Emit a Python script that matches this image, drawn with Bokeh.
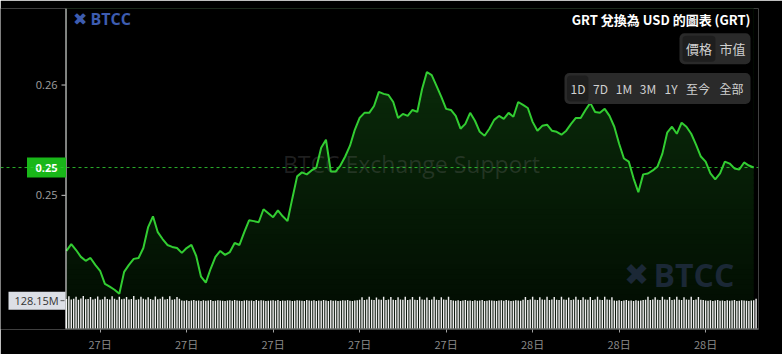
import numpy as np
import pandas as pd
from bokeh.plotting import figure
from bokeh.models import Range1d, FixedTicker, CustomJSTickFormatter, Span
from bokeh.core.properties import value
from bokeh.embed import file_html
from bokeh.resources import INLINE

# ---------------- data ----------------
title_text = "GRT 兌換為 USD 的圖表 (GRT)"
mode_buttons = ["價格", "市值"]
range_buttons = ["1D", "7D", "1M", "3M", "1Y", "至今", "全部"]
start_time = "2024-05-27 07:50"
y_ticks = [0.255, 0.26]

# GRT price, 10-minute steps
price = [
    0.25248, 0.25279, 0.25252, 0.25221, 0.25203, 0.25216, 0.25185, 0.25158, 0.25099, 0.25086,
    0.25072, 0.25054, 0.25153, 0.25185, 0.25212, 0.25216, 0.25261, 0.25356, 0.25405, 0.25333,
    0.25302, 0.25275, 0.25266, 0.25261, 0.25239, 0.25261, 0.25275, 0.25225, 0.25131, 0.25104,
    0.25167, 0.25221, 0.25248, 0.25230, 0.25243, 0.25284, 0.25275, 0.25333, 0.25387, 0.25383,
    0.25378, 0.25437, 0.25419, 0.25401, 0.25432, 0.25405, 0.25383, 0.25486, 0.25586, 0.25604,
    0.25595, 0.25613, 0.25626, 0.25716, 0.25752, 0.25608, 0.25608, 0.25635, 0.25676, 0.25725,
    0.25797, 0.25851, 0.25874, 0.25874, 0.25905, 0.25969, 0.25960, 0.25955, 0.25923, 0.25851,
    0.25869, 0.25860, 0.25887, 0.25878, 0.25982, 0.26059, 0.26045, 0.25996, 0.25946, 0.25892,
    0.25887, 0.25860, 0.25802, 0.25824, 0.25874, 0.25838, 0.25788, 0.25770, 0.25802, 0.25842,
    0.25860, 0.25847, 0.25874, 0.25856, 0.25923, 0.25910, 0.25896, 0.25833, 0.25793, 0.25815,
    0.25820, 0.25793, 0.25788, 0.25775, 0.25793, 0.25824, 0.25851, 0.25851, 0.25887, 0.25919,
    0.25878, 0.25874, 0.25892, 0.25860, 0.25811, 0.25734, 0.25667, 0.25653, 0.25577, 0.25514,
    0.25595, 0.25599, 0.25613, 0.25631, 0.25689, 0.25784, 0.25811, 0.25779, 0.25829, 0.25811,
    0.25779, 0.25730, 0.25676, 0.25653, 0.25599, 0.25572, 0.25599, 0.25653, 0.25644, 0.25622,
    0.25617, 0.25649, 0.25635, 0.25626,
]

# volume (millions), 5-minute steps
volume_m = [
    127, 139, 125, 128, 136, 124, 129, 140, 126, 127, 135, 125, 128, 138, 124, 126, 137, 127, 125, 139, 128, 124, 136, 126,
    128, 135, 125, 127, 140, 124, 126, 137, 128, 125, 134, 127, 124, 138, 126, 128, 136, 125, 127, 139, 124, 126, 135, 128,
    120, 119, 121, 118, 120, 122, 119, 120, 118, 121, 119, 120, 122, 118, 119, 121, 120, 119, 118, 120, 121, 119, 122, 120,
    119, 118, 120, 121, 119, 120, 118, 122, 119, 121, 120, 118, 119, 120, 121, 119, 122, 118, 120, 119, 121, 120, 118, 119,
    121, 120, 119, 118, 122, 120, 119, 121, 118, 120, 119, 122, 120, 118, 121, 119, 120, 118, 119, 121, 120, 122, 119, 118,
    120, 121, 124, 134, 123, 125, 136, 124, 123, 133, 125, 124, 137, 123, 125, 135, 124, 123, 134, 125, 124, 136, 123, 125,
    135, 124, 123, 137, 125, 124, 133, 123, 125, 136, 124, 123, 134, 125, 124, 136, 123, 120, 119, 121, 118, 120, 122, 119,
    120, 118, 121, 119, 120, 122, 118, 119, 121, 120, 119, 118, 120, 121, 119, 122, 120, 118, 119, 121, 120, 119, 124, 135,
    123, 125, 137, 124, 123, 134, 125, 124, 136, 123, 125, 135, 124, 123, 137, 125, 124, 133, 123, 125, 136, 124, 123, 134,
    125, 124, 135, 123, 125, 136, 124, 123, 137, 125, 124, 134, 120, 119, 121, 118, 120, 122, 119, 120, 118, 121, 119, 120,
    122, 124, 136, 123, 125, 134, 124, 123, 137, 125, 124, 135, 123, 125, 136, 124, 123, 134, 125, 124, 137, 123, 125, 135,
    124, 123, 120, 119, 121, 118, 120, 122, 119, 120, 118, 121, 119, 120, 122, 118, 119, 121, 120, 119, 118, 120, 121, 128.15,
]

# ---------------- layout constants ----------------
W, H = 782, 354
AX = 65                      # x pixel of the price axis line
FR, FT, FB = 758, 8, 331     # frame right / top / bottom
Y_HI, Y_LO = 0.263469, 0.248918
VOL_LO, VOL_HI = -4.27, 1375.5
GREEN = "#32cd32"

t0 = pd.Timestamp(start_time)
price_t = pd.date_range(t0, periods=len(price), freq="10min")
vol_t = pd.date_range(t0, periods=len(volume_m), freq="5min")
px_ms = (price_t.asi8 // 10**6).astype(float)
vx_ms = (vol_t.asi8 // 10**6).astype(float)
xa_ms = float((t0 - pd.Timedelta(minutes=2)).value // 10**6)   # time at the axis line
x1 = float((t0 + pd.Timedelta(hours=24)).value // 10**6)
ms_per_px = (x1 - xa_ms) / (FR - AX)
x0 = xa_ms - AX * ms_per_px
tick_t = pd.date_range(t0.ceil("3h"), price_t[-1], freq="3h")
tick_ms = [float(v) for v in (tick_t.asi8 // 10**6)]
vol_per_px = (VOL_HI - VOL_LO) / (FB - FT)

p = figure(width=W, height=H, x_range=Range1d(x0, x1), y_range=Range1d(Y_LO, Y_HI),
           output_backend="svg", toolbar_location=None, y_axis_location=None,
           min_border_left=0, min_border_right=W - FR, min_border_top=FT, min_border_bottom=H - FB)
p.extra_x_ranges = {"px": Range1d(0, FR)}
p.extra_y_ranges = {"py": Range1d(FB, FT), "vol": Range1d(VOL_LO, VOL_HI)}
p.background_fill_color = "black"
p.border_fill_color = "black"
p.outline_line_color = None
p.xgrid.visible = False
p.ygrid.visible = False
PX = dict(x_range_name="px", y_range_name="py")

# gradient under the line: horizontal bands, then black mask above the line
nb = 64
edges = np.linspace(Y_LO, Y_HI, nb + 1)
top_rgb, bot_rgb = np.array([12, 50, 12]), np.array([2, 12, 2])
cols = []
for k in range(nb):
    f = (k + 0.5) / nb
    c = (bot_rgb + (top_rgb - bot_rgb) * f).astype(int)
    cols.append("#%02x%02x%02x" % tuple(c))
dh = (Y_HI - Y_LO) / nb
p.quad(left=px_ms[0], right=px_ms[-1], bottom=edges[:-1], top=edges[1:] + dh * 0.5,
       fill_color=cols, line_color=None)
p.varea(x=px_ms, y1=price, y2=Y_HI, fill_color="black")

# watermarks
p.text(x=[411], y=[164], text=["BTCC Exchange Support"], **PX,
       text_font=value("Open Sans"), text_font_size="23px", text_color="#707070", text_alpha=0.28,
       text_align="center", text_baseline="middle")
p.text(x=[636], y=[276], text=["✖"], **PX,
       text_font=value("DejaVu Sans"), text_font_size="30px", text_color="#1b2836",
       text_align="center", text_baseline="middle")
p.text(x=[653], y=[276], text=["BTCC"], **PX,
       text_font=value("Open Sans"), text_font_style="bold", text_font_size="32px", text_color="#1b2836",
       text_align="left", text_baseline="middle")

# volume bars
p.vbar(x=vx_ms, top=volume_m, bottom=0, width=5 * 60 * 1000 * 0.6, y_range_name="vol",
       fill_color="#eeeeee", line_color=None)

# price line + current price guide
p.line(px_ms, price, line_color=GREEN, line_width=2)
p.add_layout(Span(location=price[-1], dimension="width", line_color=GREEN, line_dash="3 3",
                  line_width=1, line_alpha=0.85))

# hand-drawn price axis (so its badges can sit left of it)
p.segment(x0=[AX + 0.5], y0=[FT], x1=[AX + 0.5], y1=[FB - 1], **PX, line_color="white", line_width=1)
p.segment(x0=[AX], y0=[FB - 0.5], x1=[FR], y1=[FB - 0.5], **PX, line_color="#a0a0a0", line_width=1)
p.segment(x0=[AX - 4] * len(y_ticks), y0=y_ticks, x1=[AX] * len(y_ticks), y1=y_ticks,
          x_range_name="px", line_color="#cccccc", line_width=1)
tick_labels = ["%.2f" % (np.floor(t * 100 + 1e-9) / 100) for t in y_ticks]
p.text(x=[AX - 8] * len(y_ticks), y=y_ticks, text=tick_labels, x_range_name="px",
       text_font=value("Open Sans"), text_font_size="11px", text_color="#a0a0a0",
       text_align="right", text_baseline="middle")

# current price badge
price_badge = "%.2f" % (np.floor(price[-1] * 100 + 1e-9) / 100)
p.rect(x=[46], y=[price[-1]], width=39, height=20, height_units="screen", x_range_name="px",
       fill_color="#19b719", line_color=None)
p.text(x=[46], y=[price[-1]], text=[price_badge], x_range_name="px",
       text_font=value("Open Sans"), text_font_style="bold", text_font_size="11px",
       text_color="white", text_align="center", text_baseline="middle")

# volume badge
vb_y = volume_m[-1] - 2 * vol_per_px
p.rect(x=[36.5], y=[vb_y], width=57, height=18, height_units="screen",
       x_range_name="px", y_range_name="vol", fill_color="#dcdfe6", line_color=None)
p.text(x=[36], y=[vb_y], text=["%.2fM" % volume_m[-1]], x_range_name="px", y_range_name="vol",
       text_font=value("Open Sans"), text_font_size="11px",
       text_color="#333333", text_align="center", text_baseline="middle")
p.segment(x0=[AX - 5], y0=[vb_y], x1=[AX - 1], y1=[vb_y],
          x_range_name="px", y_range_name="vol", line_color="#555555", line_width=1)

# top-left logo
p.text(x=[79.5], y=[19], text=["✖"], **PX,
       text_font=value("DejaVu Sans"), text_font_size="17px", text_color="#3d5cb0",
       text_align="center", text_baseline="middle")
p.text(x=[90], y=[19], text=["BTCC"], **PX,
       text_font=value("Open Sans"), text_font_style="bold", text_font_size="16px", text_color="#3d5cb0",
       text_align="left", text_baseline="middle")

# title and buttons
p.text(x=[750], y=[19], text=[title_text], **PX,
       text_font=value("Noto Sans CJK TC"), text_font_style="bold", text_font_size="13px",
       text_color="white", text_align="right", text_baseline="middle")
p.quad(left=[679], right=[750], top=[33], bottom=[64], **PX,
       fill_color="#2a2a2a", line_color=None, border_radius=5)
p.quad(left=[682], right=[715], top=[35.5], bottom=[61.5], **PX,
       fill_color="#1e1e1e", line_color=None, border_radius=4)
p.text(x=[698.5, 732], y=[48.5, 48.5], text=mode_buttons, **PX,
       text_font=value("Noto Sans CJK TC"), text_font_size="13px", text_color="#d0d0d0",
       text_align="center", text_baseline="middle")
p.quad(left=[564], right=[750], top=[73], bottom=[104], **PX,
       fill_color="#2a2a2a", line_color=None, border_radius=5)
p.quad(left=[566.5], right=[588], top=[75.5], bottom=[101.5], **PX,
       fill_color="#1e1e1e", line_color=None, border_radius=4)
p.text(x=[577.5, 600, 623.5, 647.5, 670.5, 697.5, 731], y=[89] * 7, text=range_buttons, **PX,
       text_font=value("Noto Sans CJK TC"), text_font_size="12px", text_color="#d0d0d0",
       text_align="center", text_baseline="middle")

# time axis
xa = p.xaxis[0]
xa.ticker = FixedTicker(ticks=tick_ms)
xa.formatter = CustomJSTickFormatter(code="const d = new Date(tick); return d.getUTCDate() + '日';")
xa.axis_line_color = None
xa.major_tick_line_color = "#a0a0a0"
xa.major_tick_out = 3
xa.major_tick_in = 0
xa.minor_tick_line_color = None
xa.major_label_text_color = "#8a8a8a"
xa.major_label_text_font = "Noto Sans CJK TC"
xa.major_label_text_font_size = "11px"
xa.major_label_standoff = 3

open("out.html", "w").write(file_html(p, INLINE))
